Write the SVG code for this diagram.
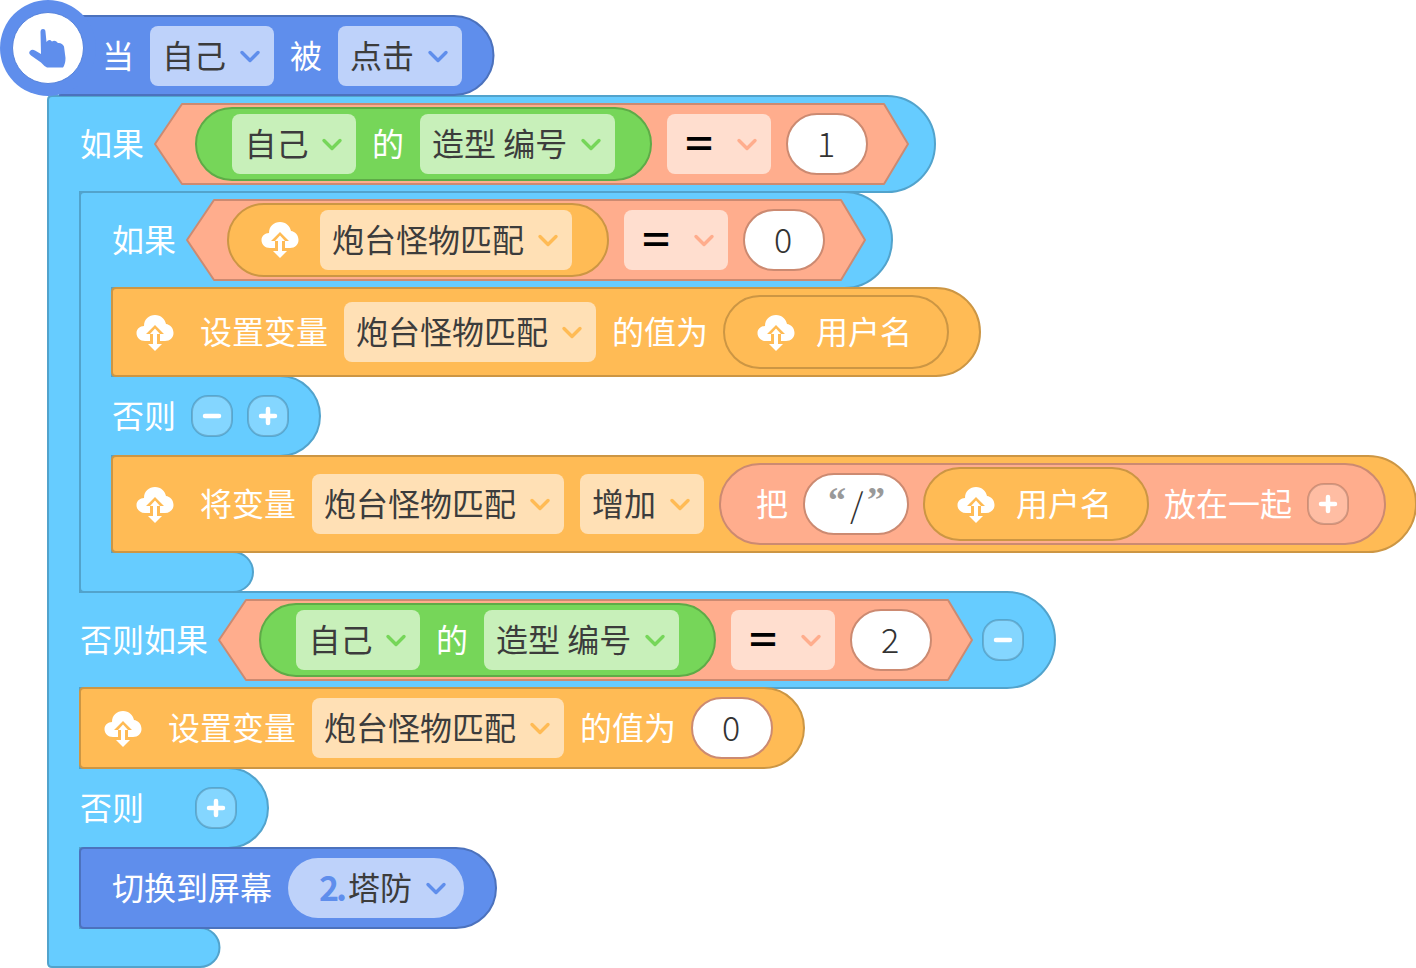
<svg xmlns="http://www.w3.org/2000/svg" width="1416" height="968" viewBox="0 0 1416 968">
<style>
text{font-family:"Noto Sans CJK SC","Noto Sans",sans-serif;font-size:32px}
.w{fill:#fff}.d{fill:#3c3c3c}
.n{fill:#333;font-weight:300;font-size:34px}
.blue{fill:#5F8EEC;stroke:#4C72BD;stroke-width:2}
.sky{fill:#66CCFF;stroke:#52A3CC;stroke-width:2}
.org{fill:#FFBB55;stroke:#CC9644;stroke-width:2}
.sal{fill:#FFAD8D;stroke:#CC8A71;stroke-width:2;stroke-linejoin:round}
.grn{fill:#76D659;stroke:#5EAB47;stroke-width:2}
.pw{fill:#fff;stroke:#CC8A71;stroke-width:2}
.dblue{fill:#BED2FA}.dgrn{fill:#C8F0BA}.dorg{fill:#FFE0B5}.dsal{fill:#FFDECF}
.chev{fill:none;stroke-width:3.4;stroke-linecap:round;stroke-linejoin:round}
.eq{font-family:"Liberation Sans",sans-serif;font-weight:700;font-size:40px;fill:#000}
.q{font-family:"Liberation Serif",serif;font-size:36px;font-weight:700;fill:#999}
</style>
<defs>
<path id="c" d="M-8 -2.500L0 5.500L8 -2.500" class="chev"/>
<g id="cloud"><path fill="#fff" d="M-10 8C-15 8 -18.500 4.500 -18.500 0C-18.500 -4 -15 -7 -11 -7C-11 -14 -6 -18 0 -18C6 -18 10 -14 11 -9C15 -8.500 18.500 -5 18.500 0C18.500 4.500 15 8 10 8Z"/><path d="M0 -8L-9 1H-5V10H5V1H9Z" fill="#FFBB55"/><path fill="#fff" d="M0 -4.500L-5 1H-2V12H2V1H5Z"/><path fill="#fff" d="M-7 11H7L0 18Z"/></g>
<g id="plus"><rect x="-20" y="-20" width="40" height="40" rx="16" fill="#fff" fill-opacity=".2" stroke="#000" stroke-opacity=".18" stroke-width="2"/><path d="M-7 0H7M0 -7V7" stroke="#fff" stroke-width="4.500" stroke-linecap="round"/></g>
<g id="minus"><rect x="-20" y="-20" width="40" height="40" rx="16" fill="#fff" fill-opacity=".2" stroke="#000" stroke-opacity=".18" stroke-width="2"/><path d="M-7 0H7" stroke="#fff" stroke-width="4.500" stroke-linecap="round"/></g>
</defs>
<g id="connectors"></g>
<g id="outer-if"><path class="sky" d="M48 100Q48 96 52 96H887A48 48 0 0 1 887 192H80V592H1007A48 48 0 0 1 1007 688H80V768H228A40 40 0 0 1 228 848H80V928H200A19.500 19.500 0 0 1 200 967H52Q48 967 48 963Z"/>
<text class="w" x="80" y="156">如果</text>
<text class="w" x="80" y="652">否则如果</text>
<text class="w" x="80" y="820">否则</text>
<use href="#minus" x="1003" y="640"/>
<use href="#plus" x="216" y="808"/></g>
<g id="hat"><path class="blue" d="M60 16H454A39.500 39.500 0 0 1 454 95H60Z"/>
<circle cx="48" cy="48" r="48" fill="#5F8EEC"/>
<circle cx="48" cy="48" r="35.500" fill="#fff" stroke="#5683DC" stroke-width="1"/>
<path fill="#5F8EEC" d="M40.500 32Q40.500 29 43 29Q45.500 29 45.500 32L46.500 42Q49 38.500 52 41.500Q55 39.500 58 43Q62 42.500 64 46.500L65.500 58Q65.500 64 63 67.500H47Q44 66 41 62.500L31 55.500Q28 53 30 51Q32 49 35 50.500L41 54Z"/>
<text class="w" x="102" y="68">当</text>
<rect class="dblue" x="150" y="26" width="124" height="60" rx="8"/><text class="d" x="162" y="68">自己</text><use href="#c" x="250" y="55" stroke="#5F8EEC"/>
<text class="w" x="290" y="68">被</text>
<rect class="dblue" x="338" y="26" width="124" height="60" rx="8"/><text class="d" x="350" y="68">点击</text><use href="#c" x="438" y="55" stroke="#5F8EEC"/></g>
<g id="cond1"><path class="sal" d="M182 104H884L908 144L884 184H182L155 144Z"/>
<rect class="grn" x="196" y="108" width="455" height="72" rx="36"/>
<rect class="dgrn" x="232" y="114" width="124" height="60" rx="8"/><text class="d" x="244.500" y="156">自己</text><use href="#c" x="332" y="143" stroke="#76D659"/>
<text class="w" x="372" y="156">的</text>
<rect class="dgrn" x="420" y="114" width="195" height="60" rx="8"/><text class="d" x="432" y="156">造型 编号</text><use href="#c" x="591" y="143" stroke="#76D659"/>
<rect class="dsal" x="667" y="114" width="104" height="60" rx="8"/><text class="eq" transform="translate(685 156) scale(1.2 .9)">=</text><use href="#c" x="747" y="143" stroke="#FFAD8D"/>
<rect class="pw" x="787" y="114" width="80" height="60" rx="30"/><text class="n" x="826" y="157" text-anchor="middle">1</text></g>
<g id="inner-if"><path class="sky" d="M80 196Q80 192 84 192H844A48 48 0 0 1 844 288H112V376H280A40 40 0 0 1 280 456H112V552H233A20 20 0 0 1 233 592H84Q80 592 80 588Z"/>
<text class="w" x="112" y="252">如果</text>
<text class="w" x="112" y="428">否则</text>
<use href="#minus" x="212" y="416"/><use href="#plus" x="268" y="416"/></g>
<g id="cond2"><path class="sal" d="M214 200H841L865 240L841 280H214L187 240Z"/>
<rect class="org" x="228" y="204" width="380" height="72" rx="36"/>
<use href="#cloud" x="280" y="240"/>
<rect class="dorg" x="320" y="210" width="252" height="60" rx="8"/><text class="d" x="332" y="252">炮台怪物匹配</text><use href="#c" x="548" y="239" stroke="#FFBB55"/>
<rect class="dsal" x="624" y="210" width="104" height="60" rx="8"/><text class="eq" transform="translate(642 252) scale(1.2 .9)">=</text><use href="#c" x="704" y="239" stroke="#FFAD8D"/>
<rect class="pw" x="744" y="210" width="80" height="60" rx="30"/><text class="n" x="783" y="253" text-anchor="middle">0</text></g>
<g id="set1"><path class="org" d="M112 292Q112 288 116 288H936A44 44 0 0 1 936 376H116Q112 376 112 372Z"/>
<use href="#cloud" x="155" y="333"/>
<text class="w" x="200" y="344">设置变量</text>
<rect class="dorg" x="344" y="302" width="252" height="60" rx="8"/><text class="d" x="356" y="344">炮台怪物匹配</text><use href="#c" x="572" y="331" stroke="#FFBB55"/>
<text class="w" x="612" y="344">的值为</text>
<rect class="org" x="724" y="296" width="224" height="72" rx="36"/>
<use href="#cloud" x="776" y="333"/>
<text class="w" x="816" y="344">用户名</text></g>
<g id="change1"><path class="org" d="M112 460Q112 456 116 456H1368A48 48 0 0 1 1368 552H116Q112 552 112 548Z"/>
<use href="#cloud" x="155" y="505"/>
<text class="w" x="200" y="516">将变量</text>
<rect class="dorg" x="312" y="474" width="252" height="60" rx="8"/><text class="d" x="324" y="516">炮台怪物匹配</text><use href="#c" x="540" y="503" stroke="#FFBB55"/>
<rect class="dorg" x="580" y="474" width="124" height="60" rx="8"/><text class="d" x="592" y="516">增加</text><use href="#c" x="680" y="503" stroke="#FFBB55"/>
<rect class="sal" x="720" y="464" width="665" height="80" rx="40"/>
<text class="w" x="756" y="516">把</text>
<rect class="pw" x="804" y="474" width="104" height="60" rx="30"/>
<text class="q" x="828" y="512">“</text>
<text class="q" x="867" y="512">”</text>
<text class="n" x="850" y="518">/</text>
<rect class="org" x="924" y="468" width="224" height="72" rx="36"/>
<use href="#cloud" x="976" y="505"/>
<text class="w" x="1016" y="516">用户名</text>
<text class="w" x="1164" y="516">放在一起</text>
<use href="#plus" x="1328" y="504"/></g>
<g id="cond3"><path class="sal" d="M246 600H948L972 640L948 680H246L219 640Z"/>
<rect class="grn" x="260" y="604" width="455" height="72" rx="36"/>
<rect class="dgrn" x="296" y="610" width="124" height="60" rx="8"/><text class="d" x="308.500" y="652">自己</text><use href="#c" x="396" y="639" stroke="#76D659"/>
<text class="w" x="436" y="652">的</text>
<rect class="dgrn" x="484" y="610" width="195" height="60" rx="8"/><text class="d" x="496" y="652">造型 编号</text><use href="#c" x="655" y="639" stroke="#76D659"/>
<rect class="dsal" x="731" y="610" width="104" height="60" rx="8"/><text class="eq" transform="translate(749 652) scale(1.2 .9)">=</text><use href="#c" x="811" y="639" stroke="#FFAD8D"/>
<rect class="pw" x="851" y="610" width="80" height="60" rx="30"/><text class="n" x="890" y="653" text-anchor="middle">2</text></g>
<g id="set2"><path class="org" d="M80 692Q80 688 84 688H764A40 40 0 0 1 764 768H84Q80 768 80 764Z"/>
<use href="#cloud" x="123" y="729"/>
<text class="w" x="168" y="740">设置变量</text>
<rect class="dorg" x="312" y="698" width="252" height="60" rx="8"/><text class="d" x="324" y="740">炮台怪物匹配</text><use href="#c" x="540" y="727" stroke="#FFBB55"/>
<text class="w" x="580" y="740">的值为</text>
<rect class="pw" x="692" y="698" width="80" height="60" rx="30"/><text class="n" x="731" y="741" text-anchor="middle">0</text></g>
<g id="switch"><path class="blue" d="M80 852Q80 848 84 848H456A40 40 0 0 1 456 928H84Q80 928 80 924Z"/>
<text class="w" x="112" y="900">切换到屏幕</text>
<rect class="dblue" x="288" y="858" width="176" height="60" rx="30"/>
<text x="319" y="901" fill="#5F8EEC" font-weight="700" letter-spacing="-3" style="font-size:34px">2.</text>
<text class="d" x="348" y="900">塔防</text>
<use href="#c" x="436" y="887" stroke="#5F8EEC"/></g>
</svg>
